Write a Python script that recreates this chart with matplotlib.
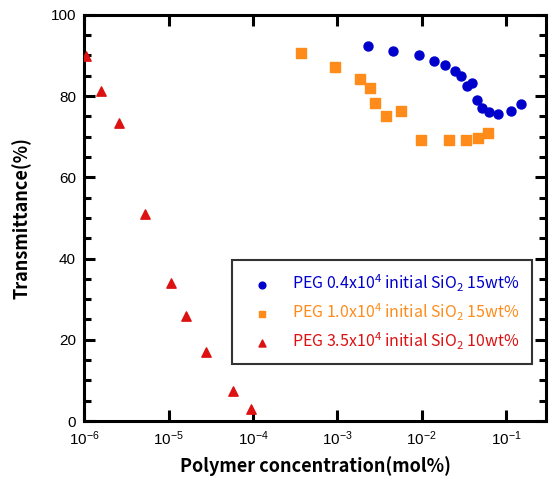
import numpy as np
import matplotlib
matplotlib.use("Agg")
import matplotlib.pyplot as plt
from matplotlib.ticker import LogLocator, MultipleLocator, NullLocator

# ── data ─────────────────────────────────────────────────────────────────────
peg04_x = 10 ** np.array([-2.635, -2.335, -2.03, -1.85, -1.72, -1.61, -1.53,
                          -1.46, -1.40, -1.34, -1.29, -1.20, -1.09, -0.94, -0.82])
peg04_y = [92.3, 91.0, 90.1, 88.6, 87.7, 86.2, 85.0,
           82.4, 83.1, 79.0, 77.1, 76.1, 75.5, 76.4, 78.0]

peg10_x = 10 ** np.array([-3.43, -3.034, -2.73, -2.615, -2.55, -2.42,
                          -2.24, -2.01, -1.68, -1.48, -1.33, -1.21])
peg10_y = [90.5, 87.2, 84.3, 82.1, 78.4, 75.0, 76.3, 69.1, 69.1, 69.1, 69.6, 70.9]

peg35_x = 10 ** np.array([-5.98, -5.805, -5.585, -5.28, -4.97, -4.79, -4.56, -4.24, -4.03])
peg35_y = [89.9, 81.2, 73.4, 51.0, 33.9, 25.9, 17.0, 7.4, 2.9]

labels = ["PEG 0.4x10$^4$ initial SiO$_2$ 15wt%",
          "PEG 1.0x10$^4$ initial SiO$_2$ 15wt%",
          "PEG 3.5x10$^4$ initial SiO$_2$ 10wt%"]
colors = ["#0000cc", "#ff8c1a", "#dd1111"]

plt.rcParams['mathtext.default'] = 'regular'
cjk = ['Noto Sans CJK JP', 'DejaVu Sans']

fig = plt.figure(figsize=(5.52, 4.79), dpi=100)
ax = fig.add_axes([0.153, 0.121, 0.837, 0.848])

ax.scatter(peg04_x, peg04_y, marker='o', s=42, color=colors[0], label=labels[0], zorder=3)
ax.scatter(peg10_x, peg10_y, marker='s', s=45, color=colors[1], label=labels[1], zorder=3)
ax.scatter(peg35_x, peg35_y, marker='^', s=45, color=colors[2], label=labels[2], zorder=3)

ax.set_xscale('log')
ax.set_xlim(1e-6, 10 ** -0.52)
ax.set_ylim(0, 100)
ax.xaxis.set_major_locator(LogLocator(base=10, numticks=10))
ax.xaxis.set_minor_locator(NullLocator())
ax.yaxis.set_major_locator(MultipleLocator(20))
ax.yaxis.set_minor_locator(MultipleLocator(5))

for s in ax.spines.values():
    s.set_linewidth(2.2)
ax.tick_params(which='both', direction='in', top=True, right=True, width=2.2,
               labelsize=11, pad=6)
ax.tick_params(which='major', length=8)
ax.tick_params(which='minor', length=5)
for lbl in ax.get_xticklabels() + ax.get_yticklabels():
    lbl.set_family(['Liberation Sans Narrow', 'Liberation Sans', 'DejaVu Sans'])

ax.set_xlabel("Polymer concentration(mol%)", fontsize=13, fontweight='bold',
              family=cjk, labelpad=6)
ax.set_ylabel("Transmittance(%)", fontsize=13, fontweight='bold',
              family=cjk, labelpad=14)

leg = ax.legend(loc='lower right', bbox_to_anchor=(0.985, 0.12), frameon=True,
                fancybox=False, edgecolor='black', handletextpad=0.8,
                handlelength=2.2, borderpad=0.75, labelspacing=0.5, markerscale=0.75,
                prop={'family': cjk, 'size': 11.5})
leg.get_frame().set_linewidth(1.5)
for txt, c in zip(leg.get_texts(), colors):
    txt.set_color(c)

plt.savefig("out.png", dpi=100)
